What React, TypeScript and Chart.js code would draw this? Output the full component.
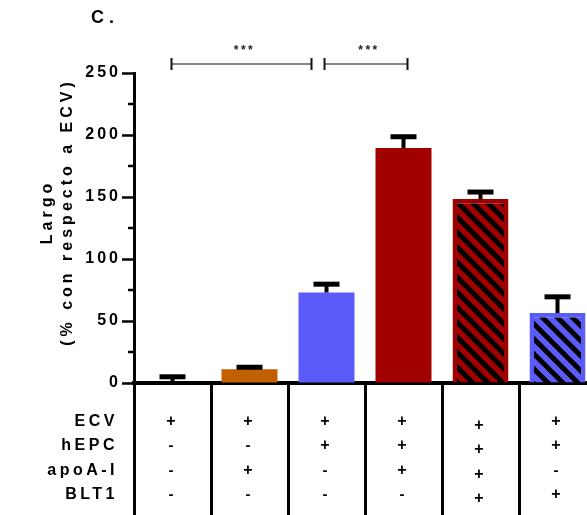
import React, { useEffect, useRef } from "react";
import { Chart, registerables } from "chart.js";

Chart.register(...registerables);

// ---------- data ----------
const categories = ["ECV", "ECV+apoA-I", "ECV+hEPC", "ECV+hEPC+apoA-I", "ECV+hEPC+apoA-I+BLT1", "ECV+hEPC+BLT1"];
const means = [0.5, 11, 73, 189.5, 148.3, 56.4];
const errors = [4.5, 1.7, 6.7, 9.1, 5.7, 13.1];
const barColors = ["#000000", "#C06000", "#5B5BFA", "#A00000", "#A00000", "#5B5BFA"];
const hatched = [false, false, false, false, true, true];
const rowLabels = ["ECV", "hEPC", "apoA-I", "BLT1"];
const signs = [
  ["+", "-", "-", "-"],
  ["+", "-", "+", "-"],
  ["+", "+", "-", "-"],
  ["+", "+", "+", "-"],
  ["+", "+", "+", "+"],
  ["+", "+", "-", "+"],
];
const yMajorTicks = [0, 50, 100, 150, 200, 250];
const comparisons = [
  { from: 0, to: 2, label: "***" },
  { from: 2, to: 3, label: "***" },
];
const panelLabel = "C.";
const yTitle = ["Largo", "(% con respecto a ECV)"];

const FONT = "'Liberation Sans', Arial, Helvetica, sans-serif";

function makeHatch(color: string): CanvasPattern | string {
  const P = 15;
  const c = document.createElement("canvas");
  c.width = P;
  c.height = P;
  const g = c.getContext("2d");
  if (!g) return color;
  g.fillStyle = color;
  g.fillRect(0, 0, P, P);
  g.strokeStyle = "#000";
  g.lineWidth = 5;
  g.lineCap = "square";
  g.beginPath();
  g.moveTo(-2, -2);
  g.lineTo(P + 2, P + 2);
  g.moveTo(-P - 2, -2);
  g.lineTo(2, P + 2);
  g.moveTo(P - 2, -2);
  g.lineTo(2 * P + 2, P + 2);
  g.stroke();
  const pat = g.createPattern(c, "repeat");
  return pat || color;
}

const overlayPlugin = {
  id: "overlay",
  beforeDraw(chart: any) {
    chart.ctx.letterSpacing = "3px";
  },
  afterDatasetsDraw(chart: any) {
    const { ctx } = chart;
    const x = chart.scales.x;
    const y = chart.scales.y;
    ctx.save();
    ctx.fillStyle = "#000";
    means.forEach((m, i) => {
      const cx = x.getPixelForValue(i);
      const top = y.getPixelForValue(m);
      const eTop = y.getPixelForValue(m + errors[i]);
      ctx.fillRect(cx - 2, eTop, 4, top - eTop);
      ctx.fillRect(cx - 13, eTop - 2.5, 26, 5);
    });
    ctx.restore();
  },
  afterDraw(chart: any) {
    const { ctx, chartArea } = chart;
    const x = chart.scales.x;
    const y = chart.scales.y;
    ctx.save();

    // minor y ticks
    ctx.fillStyle = "#000";
    y.ticks.forEach((t: any) => {
      if (!yMajorTicks.includes(t.value)) {
        const yy = y.getPixelForValue(t.value);
        ctx.fillRect(chartArea.left - 6, yy - 1.25, 6, 2.5);
      }
    });

    // significance brackets
    const insets = [
      [-1, -15],
      [-2, 4],
    ];
    const by = chartArea.top - 9;
    comparisons.forEach((c, k) => {
      const x1 = x.getPixelForValue(c.from) + insets[k][0];
      const x2 = x.getPixelForValue(c.to) + insets[k][1];
      ctx.strokeStyle = "#111";
      ctx.lineWidth = 1.2;
      ctx.beginPath();
      ctx.moveTo(x1, by);
      ctx.lineTo(x2, by);
      ctx.stroke();
      ctx.lineWidth = 2;
      ctx.beginPath();
      ctx.moveTo(x1, by - 6);
      ctx.lineTo(x1, by + 6);
      ctx.moveTo(x2, by - 6);
      ctx.lineTo(x2, by + 6);
      ctx.stroke();
      ctx.fillStyle = "#222";
      ctx.font = `bold 12px ${FONT}`;
      ctx.letterSpacing = "2.5px";
      ctx.textAlign = "center";
      ctx.textBaseline = "middle";
      ctx.fillText(c.label, (x1 + x2) / 2 + 3, by - 13);
    });

    // panel label
    ctx.fillStyle = "#000";
    ctx.font = `bold 18px ${FONT}`;
    ctx.letterSpacing = "5px";
    ctx.textAlign = "left";
    ctx.textBaseline = "middle";
    ctx.fillText(panelLabel, 91, 18);

    // y title
    ctx.save();
    ctx.translate(0, (chartArea.top + chartArea.bottom) / 2 - 14);
    ctx.rotate(-Math.PI / 2);
    ctx.font = `bold 16px ${FONT}`;
    ctx.letterSpacing = "4px";
    ctx.textAlign = "center";
    ctx.textBaseline = "middle";
    ctx.fillText(yTitle[0], 2, 48);
    ctx.fillText(yTitle[1], 2, 68);
    ctx.restore();

    // table rows
    const rowYs = [422, 446, 471, 495];
    ctx.font = `bold 16px ${FONT}`;
    ctx.letterSpacing = "3.5px";
    ctx.textAlign = "right";
    ctx.textBaseline = "middle";
    rowLabels.forEach((r, j) => ctx.fillText(r, 118, rowYs[j]));
    ctx.letterSpacing = "0px";
    ctx.textAlign = "center";
    signs.forEach((col, i) => {
      const cx = x.getPixelForValue(i) - 1.5;
      const dy = i === 4 ? 4 : 0;
      col.forEach((s, j) => {
        if (s === "+") {
          ctx.font = `bold 16px ${FONT}`;
        } else {
          ctx.font = `bold 15px ${FONT}`;
        }
        ctx.fillText(s, cx, rowYs[j] + dy);
      });
    });

    ctx.restore();
  },
};

export default function App() {
  const ref = useRef<HTMLCanvasElement | null>(null);
  useEffect(() => {
    document.body.style.margin = "0";
    document.body.style.overflow = "hidden";
    const canvas = ref.current;
    if (!canvas) return;
    const bg = means.map((_, i) => (hatched[i] ? makeHatch(barColors[i]) : barColors[i]));
    const chart = new Chart(canvas, {
      type: "bar",
      data: {
        labels: categories,
        datasets: [
          {
            data: means,
            backgroundColor: bg as any,
            borderColor: barColors,
            borderWidth: hatched.map((h) => (h ? 4.5 : 0)),
            borderSkipped: "bottom",
            barPercentage: 0.727,
            categoryPercentage: 1,
          },
        ],
      },
      options: {
        responsive: false,
        animation: false,
        devicePixelRatio: 1,
        layout: { padding: { top: 73, left: 0, right: 4, bottom: 0 } },
        plugins: { legend: { display: false }, tooltip: { enabled: false } },
        scales: {
          x: {
            offset: true,
            grid: {
              display: true,
              offset: true,
              drawOnChartArea: false,
              drawTicks: true,
              tickLength: 132,
              tickWidth: 3,
              tickColor: "#000",
            },
            border: { display: true, color: "#000", width: 4 },
            ticks: { display: false },
            afterFit: (s: any) => {
              s.height = 132;
            },
          },
          y: {
            min: 0,
            max: 250,
            ticks: {
              stepSize: 25,
              color: "#000",
              padding: 1,
              font: { family: FONT, size: 16, weight: "bold" },
              callback: (v: any) => (yMajorTicks.includes(Number(v)) ? String(v) : ""),
            },
            grid: {
              drawOnChartArea: false,
              tickLength: 12,
              tickWidth: 2.5,
              tickColor: (c: any) => (yMajorTicks.includes(c.tick?.value) ? "#000" : "rgba(0,0,0,0)"),
            },
            border: { display: true, color: "#000", width: 3 },
            afterFit: (s: any) => {
              s.width = 134;
            },
          },
        },
      },
      plugins: [overlayPlugin],
    });
    return () => chart.destroy();
  }, []);
  return (
    <div style={{ position: "fixed", left: 0, top: 0, width: 587, height: 515, overflow: "hidden", background: "#fff" }}>
      <canvas ref={ref} width={600} height={515} style={{ width: 600, height: 515, display: "block" }} />
    </div>
  );
}
